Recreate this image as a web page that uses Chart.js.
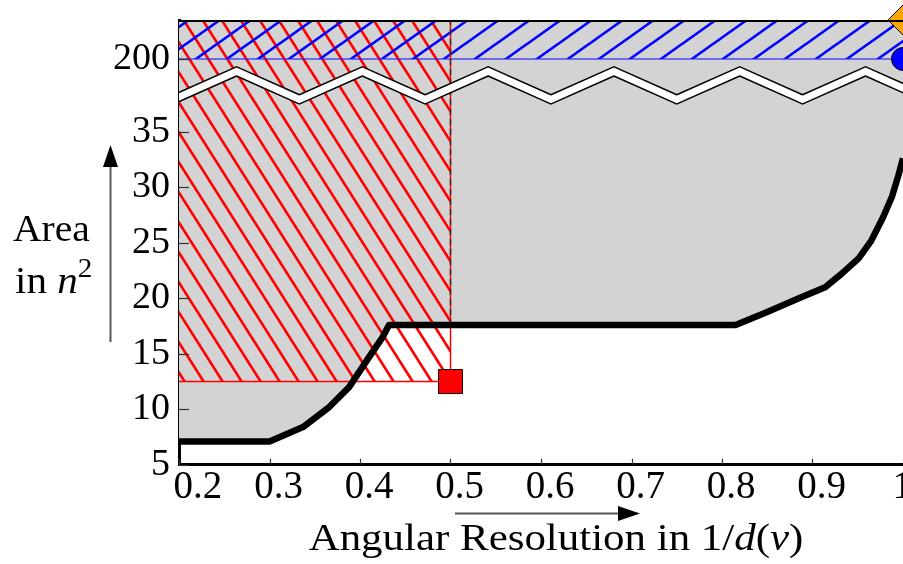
<!DOCTYPE html>
<html>
<head>
<meta charset="utf-8">
<script src="https://cdn.jsdelivr.net/npm/chart.js@4.4.1/dist/chart.umd.min.js"></script>
<style>
  html, body { margin: 0; padding: 0; background: #fff; overflow: hidden; }
  #wrap { width: 903px; height: 564px; }
</style>
</head>
<body>
<div id="wrap"><canvas id="area-chart" width="903" height="564"></canvas></div>
<script>
// Lower bound curve (black) and the region above it
const curveX = [0.2, 0.3, 0.337, 0.366, 0.388, 0.410, 0.425, 0.432, 0.815, 0.848, 0.885, 0.914, 0.932, 0.951, 0.965, 0.978, 0.988, 0.995, 1.0];
const curveY = [7.1, 7.1, 8.4, 10.2, 12.0, 14.7, 16.5, 17.6, 17.6, 18.7, 20.0, 21.0, 22.2, 23.6, 25.2, 27.3, 29.2, 31.1, 32.6];

// Hatched regions: [x from, x to] and lower edge
const redX = [0.2, 0.5];
const redY = 12.5;
const blueX = [0.2, 1.0];
const blueY = 200;

// Markers
const squarePt = [0.5, 12.5];
const circlePt = [1.0, 200];
const diamondPt = [1.0, 220];

// Axes
const xTicks = [0.2, 0.3, 0.4, 0.5, 0.6, 0.7, 0.8, 0.9, 1];
const yTicks = [5, 10, 15, 20, 25, 30, 35, 200];
const yTopValue = 220;

// Broken y axis: values up to 40 are linear, 200+ sits above the break
const AX200 = 41.56;
const UPPER = 0.1755;
function toAxis(v) {
  return v <= 40 ? v : AX200 + (v - 200) * UPPER;
}

// Break marker (zigzag), in axis units
const zigX = [0.194, 0.2636, 0.333, 0.4026, 0.472, 0.5416, 0.611, 0.6806, 0.75, 0.8196, 0.889, 0.9586, 1.028];
const zigY = [37.92, 40.44, 37.92, 40.44, 37.92, 40.44, 37.92, 40.44, 37.92, 40.44, 37.92, 40.44, 37.92];

const SERIF = "'Liberation Serif', 'DejaVu Serif', serif";

function hatch(color, w, h, dir) {
  const c = document.createElement("canvas");
  c.width = w;
  c.height = h;
  const g = c.getContext("2d");
  g.strokeStyle = color;
  g.lineWidth = 2.6;
  for (let k = -1; k <= 1; k++) {
    g.beginPath();
    if (dir === "down") {
      g.moveTo(k * w - w, -h);
      g.lineTo(k * w + 2 * w, 2 * h);
    } else {
      g.moveTo(k * w - w, 2 * h);
      g.lineTo(k * w + 2 * w, -h);
    }
    g.stroke();
  }
  return g.createPattern(c, "repeat");
}

const pts = (xs, ys) => xs.map((x, i) => ({ x: x, y: toAxis(Array.isArray(ys) ? ys[i] : ys) }));

// first/last x labels sit a bit off their ticks in the original
function xLabel(i) {
  const s = String(xTicks[i]);
  if (i === 0) return "\u2002" + s;
  if (i === xTicks.length - 1) return s + "\u2002";
  return s;
}

const decorPlugin = {
  id: "decor",
  afterDraw(chart) {
    const ctx = chart.ctx;
    const area = chart.chartArea;
    const xs = chart.scales.x;
    const ys = chart.scales.y;
    ctx.save();

    // top frame line
    ctx.strokeStyle = "#000";
    ctx.lineWidth = 2;
    ctx.beginPath();
    ctx.moveTo(area.left, area.top + 1);
    ctx.lineTo(area.right, area.top + 1);
    ctx.stroke();

    // inward tick marks
    ctx.strokeStyle = "#333";
    ctx.lineWidth = 1.2;
    yTicks.forEach(v => {
      const py = Math.round(ys.getPixelForValue(toAxis(v))) + 0.5;
      ctx.beginPath();
      ctx.moveTo(area.left, py);
      ctx.lineTo(area.left + 10, py);
      ctx.stroke();
    });
    xTicks.forEach(v => {
      const px = Math.round(xs.getPixelForValue(v)) + 0.5;
      ctx.beginPath();
      ctx.moveTo(px, area.bottom);
      ctx.lineTo(px, area.bottom - 6);
      ctx.stroke();
    });

    // axis arrows
    ctx.strokeStyle = "#555";
    ctx.fillStyle = "#000";
    ctx.lineWidth = 2;
    ctx.beginPath();
    ctx.moveTo(110.5, 342);
    ctx.lineTo(110.5, 162);
    ctx.stroke();
    ctx.beginPath();
    ctx.moveTo(110.5, 145);
    ctx.lineTo(103, 167);
    ctx.lineTo(118, 167);
    ctx.closePath();
    ctx.fill();

    ctx.beginPath();
    ctx.moveTo(455, 513.5);
    ctx.lineTo(622, 513.5);
    ctx.stroke();
    ctx.beginPath();
    ctx.moveTo(640, 513.5);
    ctx.lineTo(618, 506);
    ctx.lineTo(618, 521);
    ctx.closePath();
    ctx.fill();

    // axis titles with math italics (stretched a little to match the TeX width)
    ctx.fillStyle = "#000";
    ctx.textBaseline = "alphabetic";
    const runs = (parts, x, y, align, sx) => {
      const widths = parts.map(p => { ctx.font = p.font; return ctx.measureText(p.t).width * sx; });
      const total = widths.reduce((a, b) => a + b, 0);
      let cx = align === "center" ? x - total / 2 : x;
      parts.forEach((p, i) => {
        ctx.font = p.font;
        ctx.save();
        ctx.translate(cx, y + (p.dy || 0));
        ctx.scale(sx, 1);
        ctx.fillText(p.t, 0, 0);
        ctx.restore();
        cx += widths[i];
      });
    };
    const rm = "38px " + SERIF;
    const it = "italic 38px " + SERIF;
    runs([{ t: "Area", font: rm }], 13, 241, "left", 1.04);
    runs([{ t: "in ", font: rm }, { t: "n", font: it }, { t: "2", font: "27px " + SERIF, dy: -16 }], 15, 293, "left", 1.08);

    const rm2 = "37px " + SERIF;
    const it2 = "italic 37px " + SERIF;
    runs([
      { t: "Angular Resolution in 1/", font: rm2 },
      { t: "d", font: it2 },
      { t: "(", font: rm2 },
      { t: "v", font: it2 },
      { t: ")", font: rm2 }
    ], 556, 550, "center", 1.16);

    ctx.restore();
  }
};

const redHatch = hatch("#ff0000", 19, 30, "down");
const blueHatch = hatch("#0000ff", 31, 22, "up");

new Chart(document.getElementById("area-chart"), {
  type: "line",
  data: {
    datasets: [
      {
        // grey region above the bound
        data: pts(curveX, curveY),
        borderWidth: 0,
        pointRadius: 0,
        fill: "end",
        backgroundColor: "#d3d3d3",
        order: 10
      },
      {
        data: pts(redX, redY),
        borderColor: "#ff0000",
        borderWidth: 1.5,
        pointRadius: 0,
        fill: "end",
        backgroundColor: redHatch,
        order: 9
      },
      {
        data: pts(blueX, blueY),
        borderColor: "rgba(40,40,255,0.8)",
        borderWidth: 1.5,
        pointRadius: 0,
        fill: "end",
        backgroundColor: blueHatch,
        order: 8
      },
      {
        data: pts([redX[1], redX[1]], [redY, yTopValue]),
        borderColor: "#ff0000",
        borderWidth: 1.5,
        pointRadius: 0,
        fill: false,
        order: 7
      },
      {
        data: pts([redX[1], redX[1]], [curveY[7], yTopValue]),
        borderColor: "#333",
        borderWidth: 1.5,
        borderDash: [6, 4],
        pointRadius: 0,
        fill: false,
        order: 6
      },
      {
        data: zigX.map((x, i) => ({ x: x, y: zigY[i] })),
        borderColor: "#000",
        borderWidth: 10,
        borderJoinStyle: "miter",
        pointRadius: 0,
        fill: false,
        order: 5
      },
      {
        data: zigX.map((x, i) => ({ x: x, y: zigY[i] })),
        borderColor: "#fff",
        borderWidth: 7,
        borderJoinStyle: "miter",
        pointRadius: 0,
        fill: false,
        order: 4
      },
      {
        // the bound itself
        data: pts(curveX, curveY),
        borderColor: "#000",
        borderWidth: 6.5,
        borderJoinStyle: "round",
        pointRadius: 0,
        fill: false,
        order: 3
      },
      {
        data: pts([squarePt[0]], [squarePt[1]]),
        showLine: false,
        pointStyle: "rect",
        pointRadius: 17,
        pointBackgroundColor: "#ff0000",
        pointBorderColor: "#000",
        pointBorderWidth: 1,
        clip: false,
        order: 1
      },
      {
        data: pts([circlePt[0]], [circlePt[1]]),
        showLine: false,
        pointStyle: "circle",
        pointRadius: 11.5,
        pointBackgroundColor: "#0000ff",
        pointBorderColor: "#000",
        pointBorderWidth: 1,
        clip: false,
        order: 1
      },
      {
        data: pts([diamondPt[0]], [diamondPt[1]]),
        showLine: false,
        pointStyle: "rectRot",
        pointRadius: 15,
        pointBackgroundColor: "#ffa500",
        pointBorderColor: "#000",
        pointBorderWidth: 1,
        clip: false,
        order: 1
      }
    ]
  },
  options: {
    responsive: false,
    animation: false,
    events: [],
    layout: { autoPadding: false, padding: { top: 20, left: 0, right: 0, bottom: 0 } },
    plugins: {
      legend: { display: false },
      tooltip: { enabled: false },
      filler: { propagate: false }
    },
    scales: {
      x: {
        type: "linear",
        min: 0.2,
        max: 1.0,
        z: 1,
        border: { display: true, color: "#000", width: 3 },
        grid: { display: false, drawTicks: false },
        ticks: {
          color: "#000",
          font: { family: SERIF, size: 39 },
          padding: 0,
          labelOffset: 9,
          autoSkip: false,
          maxRotation: 0,
          callback: (v, i) => xLabel(i)
        },
        afterBuildTicks: s => { s.ticks = xTicks.map(v => ({ value: v })); },
        afterFit: s => { s.height = 99.2; s.paddingLeft = 0; s.paddingRight = 0; }
      },
      y: {
        type: "linear",
        min: 5,
        max: toAxis(yTopValue),
        z: 1,
        border: { display: true, color: "#000", width: 3 },
        grid: { display: false, drawTicks: false },
        ticks: {
          color: "#000",
          font: { family: SERIF, size: 38 },
          padding: 9,
          autoSkip: false,
          callback: (v, i) => String(yTicks[i])
        },
        afterBuildTicks: s => { s.ticks = yTicks.map(v => ({ value: toAxis(v) })); },
        afterFit: s => { s.width = 179; s.paddingTop = 0; s.paddingBottom = 0; }
      }
    }
  },
  plugins: [decorPlugin]
});
</script>
</body>
</html>
